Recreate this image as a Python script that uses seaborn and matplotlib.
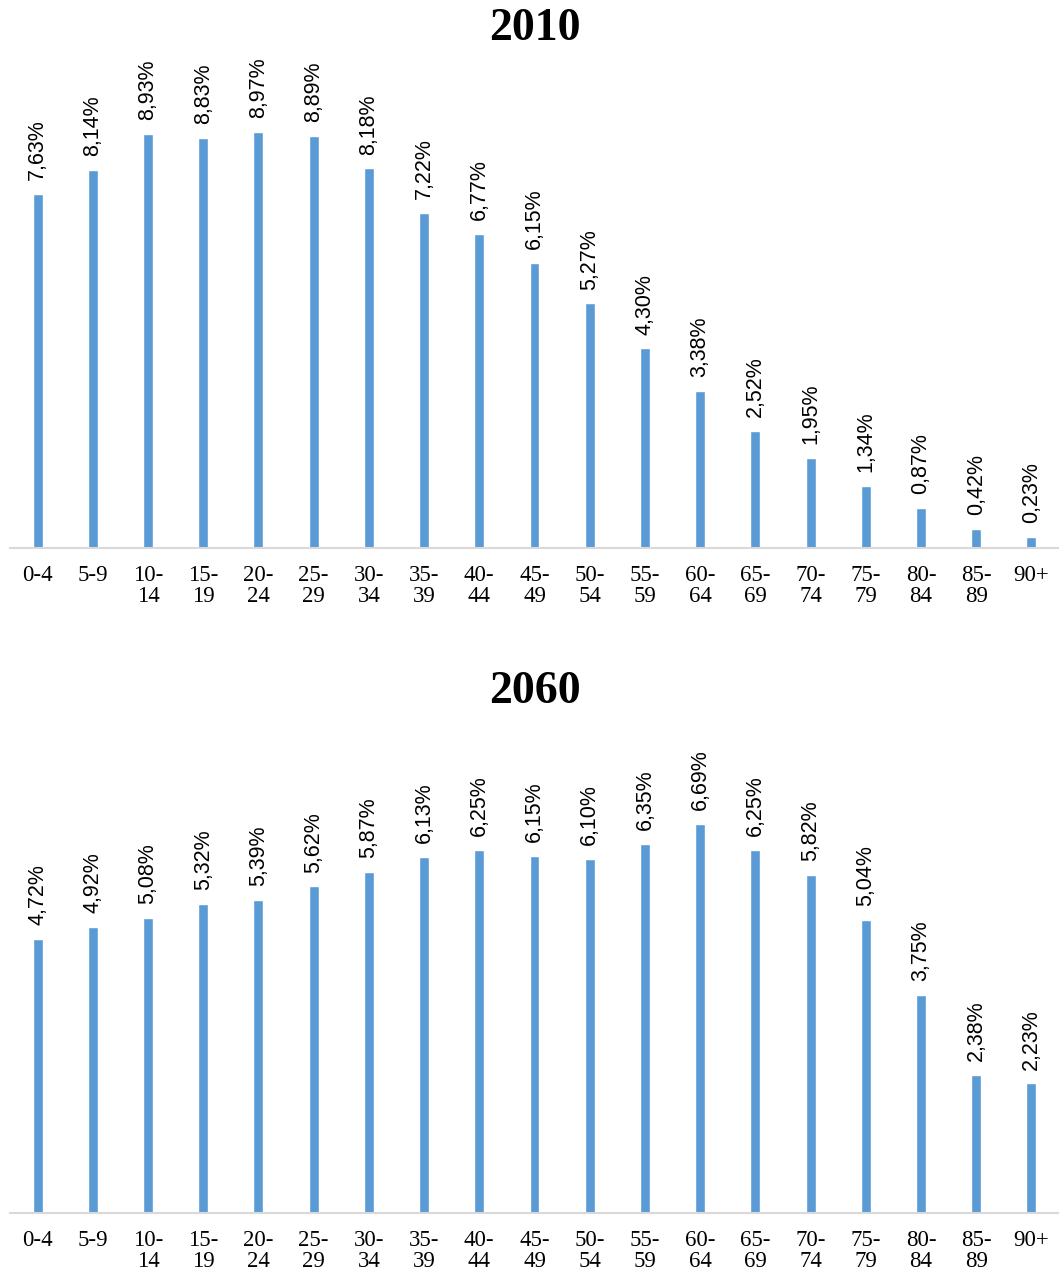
import matplotlib
matplotlib.use("Agg")
import matplotlib.pyplot as plt
import seaborn as sns
import pandas as pd

# Age groups and population shares (%)
age_groups = ["0-4", "5-9", "10-14", "15-19", "20-24", "25-29", "30-34", "35-39",
              "40-44", "45-49", "50-54", "55-59", "60-64", "65-69", "70-74",
              "75-79", "80-84", "85-89", "90+"]
share_2010 = [7.63, 8.14, 8.93, 8.83, 8.97, 8.89, 8.18, 7.22, 6.77, 6.15,
              5.27, 4.30, 3.38, 2.52, 1.95, 1.34, 0.87, 0.42, 0.23]
share_2060 = [4.72, 4.92, 5.08, 5.32, 5.39, 5.62, 5.87, 6.13, 6.25, 6.15,
              6.10, 6.35, 6.69, 6.25, 5.82, 5.04, 3.75, 2.38, 2.23]

BAR_COLOR = "#5B9BD5"
AXIS_COLOR = "#D9D9D9"
SERIF = ["Liberation Serif", "DejaVu Serif"]
SANS = ["Liberation Sans", "DejaVu Sans"]

sns.set_theme(style="white")
plt.rcParams["font.family"] = SERIF
plt.rcParams["text.color"] = "black"
plt.rcParams["xtick.color"] = "black"


def tick_text(group):
    """Tick label, split after the dash onto two lines for two-digit groups."""
    if "-" in group and len(group) > 3:
        lo, hi = group.split("-")
        return lo + "-\n" + hi
    return group


def draw_panel(ax, values, ymax):
    df = pd.DataFrame({"age": age_groups, "share": values})
    sns.barplot(data=df, x="age", y="share", color=BAR_COLOR, width=0.18,
                saturation=1, ax=ax)
    ax.set_xlim(-0.5, len(age_groups) - 0.5)
    ax.set_ylim(0, ymax)
    ax.set_xlabel("")
    ax.set_ylabel("")
    ax.set_yticks([])
    for side in ("top", "right", "left"):
        ax.spines[side].set_visible(False)
    ax.spines["bottom"].set_color(AXIS_COLOR)
    ax.spines["bottom"].set_linewidth(1.5)
    ax.set_xticks(range(len(age_groups)))
    ax.set_xticklabels([tick_text(g) for g in age_groups], fontsize=16.5,
                       family=SERIF, linespacing=1.0, va="top", color="black")
    ax.tick_params(axis="x", length=0, pad=12)
    for i, v in enumerate(values):
        ax.annotate(f"{v:.2f}".replace(".", ",") + "%", xy=(i, v),
                    xytext=(0, 10), textcoords="offset points",
                    rotation=90, ha="center", va="bottom",
                    fontsize=15.5, family=SANS, color="black")


fig = plt.figure(figsize=(10.59, 12.74), dpi=100)
W, H = 1059, 1274

ax1 = fig.add_axes([10 / W, (H - 548) / H, 1049 / W, (548 - 61) / H])
draw_panel(ax1, share_2010, 487 / 46.4)

ax2 = fig.add_axes([10 / W, (H - 1213) / H, 1049 / W, (1213 - 720) / H])
draw_panel(ax2, share_2060, 493 / 58.1)

fig.text(535 / W, 1 - 29 / H, "2010", ha="center", va="center",
         fontsize=33, fontweight="bold", family=SERIF, color="black")
fig.text(535 / W, 1 - 692 / H, "2060", ha="center", va="center",
         fontsize=33, fontweight="bold", family=SERIF, color="black")

fig.savefig("out.png", dpi=100, facecolor="white")
